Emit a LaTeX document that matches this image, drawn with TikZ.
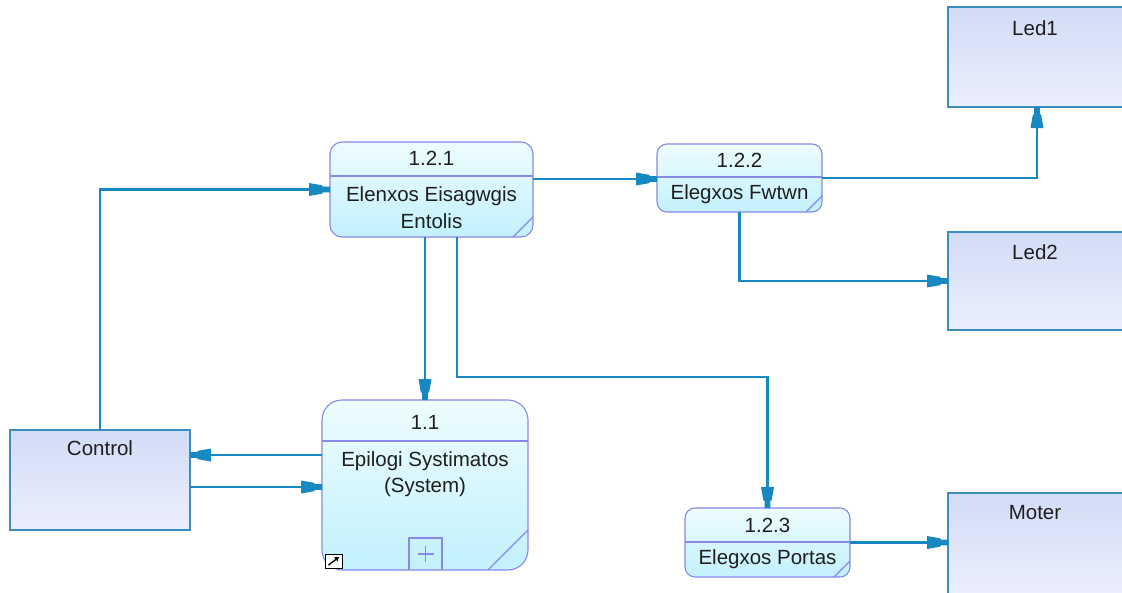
\documentclass[tikz,border=0pt]{standalone}
\usepackage{fontspec}
\setmainfont{Liberation Sans}
\usetikzlibrary{arrows.meta}
\definecolor{flow}{HTML}{1788C2}
\definecolor{procline}{HTML}{8888E6}
\definecolor{entline}{HTML}{3A8EBE}
\definecolor{proctop}{HTML}{EEFCFF}
\definecolor{procbot}{HTML}{C2F1FC}
\definecolor{enttop}{HTML}{D2DCF6}
\definecolor{entbot}{HTML}{ECEFFC}
\definecolor{txt}{HTML}{1E1E1E}
\pgfdeclarearrow{
  name = DFD,
  setup code = {
    \pgfarrowssettipend{0pt}
    \pgfarrowssetlineend{-3pt}
    \pgfarrowssetbackend{-21pt}
    \pgfarrowssetvisualbackend{-21pt}
    \pgfarrowshullpoint{0pt}{2.8pt}
    \pgfarrowshullpoint{0pt}{-2.8pt}
    \pgfarrowshullpoint{-21pt}{6.5pt}
    \pgfarrowshullpoint{-21pt}{-6.5pt}
  },
  drawing code = {
    \pgfpathmoveto{\pgfqpoint{0pt}{2.8pt}}
    \pgfpathlineto{\pgfqpoint{-7pt}{2.8pt}}
    \pgfpathlineto{\pgfqpoint{-8pt}{4.2pt}}
    \pgfpathlineto{\pgfqpoint{-21pt}{6.5pt}}
    \pgfpathlineto{\pgfqpoint{-21pt}{-6.5pt}}
    \pgfpathlineto{\pgfqpoint{-8pt}{-4.2pt}}
    \pgfpathlineto{\pgfqpoint{-7pt}{-2.8pt}}
    \pgfpathlineto{\pgfqpoint{0pt}{-2.8pt}}
    \pgfpathclose
    \pgfusepathqfill
  }
}
\begin{document}
\begin{tikzpicture}[x=1pt,y=-1pt,
  font=\fontsize{20.5}{24}\selectfont,
  proc/.style={draw=procline, line width=1.1pt, top color=proctop, bottom color=procbot, inner sep=0pt, outer sep=0pt},
  ent/.style={draw=entline, line width=1.8pt, top color=enttop, bottom color=entbot, inner sep=0pt, outer sep=0pt},
  lbl/.style={inner sep=0pt, text=txt, anchor=center},
  divider/.style={draw=procline, line width=1.1pt},
  flowline/.style={color=flow, line width=2.2pt, -DFD}]
\useasboundingbox (0,0) rectangle (1122,592);
\fill[white] (0,0) rectangle (1122,592);

% entities
\node[ent, minimum width=180pt, minimum height=100pt] (control) at (100,480) {};
\node[ent, minimum width=178pt, minimum height=100pt] (led1) at (1037,57) {};
\node[ent, minimum width=178pt, minimum height=98pt] (led2) at (1037,281) {};
\node[ent, minimum width=178pt, minimum height=102pt] (moter) at (1037,544) {};

% processes
\node[proc, rounded corners=12pt, minimum width=203pt, minimum height=95pt] (p121) at (431.5,189.5) {};
\node[proc, rounded corners=10pt, minimum width=165pt, minimum height=68pt] (p122) at (739.5,178) {};
\node[proc, rounded corners=20pt, minimum width=206pt, minimum height=170pt] (p11) at (425,485) {};
\node[proc, rounded corners=10pt, minimum width=165pt, minimum height=69pt] (p123) at (767.5,542.5) {};

% dividers and corner marks
\draw[divider] (330,176) -- (533,176);
\draw[divider] (657,177) -- (822,177);
\draw[divider] (322,441) -- (528,441);
\draw[divider] (685,542) -- (850,542);
\draw[divider] (513,237) -- (533,217);
\draw[divider] (806,212) -- (822,196);
\draw[divider] (488,570) -- (528,530);
\draw[divider] (834,577) -- (850,561);

% plus box and shortcut icon in 1.1
\draw[divider] (409,570) -- (409,538) -- (442,538) -- (442,570);
\draw[divider] (425.5,546) -- (425.5,562) (417.5,554) -- (433.5,554);
\draw[black, line width=0.9pt, fill=white] (325,554) rectangle (342,568);
\draw[black, line width=1.4pt, -{Triangle[length=4pt,width=5pt]}] (328.5,565) -- (339,557);

% labels
\node[lbl] (t121a) at (431.5,158) {1.2.1};
\node[lbl] (t121b) at (431.5,196) {Elenxos Eisagwgis};
\node[lbl] (t121c) at (431.5,221) {Entolis};
\node[lbl] (t11a) at (425,422) {1.1};
\node[lbl] (t11b) at (425,461) {Epilogi Systimatos};
\node[lbl] (t11c) at (425,487) {(System)};
\node[lbl] (t122a) at (739.5,160) {1.2.2};
\node[lbl] (t122b) at (739.5,194) {Elegxos Fwtwn};
\node[lbl] (t123a) at (767.5,525) {1.2.3};
\node[lbl] (t123b) at (767.5,559) {Elegxos Portas};
\node[lbl] (tcontrol) at (100,448) {Control};
\node[lbl] (tled1) at (1035,28) {Led1};
\node[lbl] (tled2) at (1035,252) {Led2};
\node[lbl] (tmoter) at (1035,513) {Moter};

% connectors
\coordinate (c1) at ([yshift=25pt]control.east);
\coordinate (c2) at ([yshift=-7pt]control.east);
\coordinate (c3) at ([yshift=10.5pt]p121.east);
\coordinate (c4) at ([xshift=25.5pt]p121.south);
\coordinate (bend) at (767.5,377);
\draw[flowline] (control.north) |- (p121.west);
\draw[flowline] (c3) -- (c3 -| p122.west);
\draw[flowline] (p122.east) -| (led1.south);
\draw[flowline] (p122.south) |- (led2.west);
\draw[flowline] (p11.north |- p121.south) -- (p11.north);
\draw[flowline] (c4) |- (bend) -- (p123.north);
\draw[flowline] (c1 -| p11.west) -- (c1);
\draw[flowline] (c2) -- (c2 -| p11.west);
\draw[flowline] (p123.east) -- (p123.east -| moter.west);
\end{tikzpicture}
\end{document}
